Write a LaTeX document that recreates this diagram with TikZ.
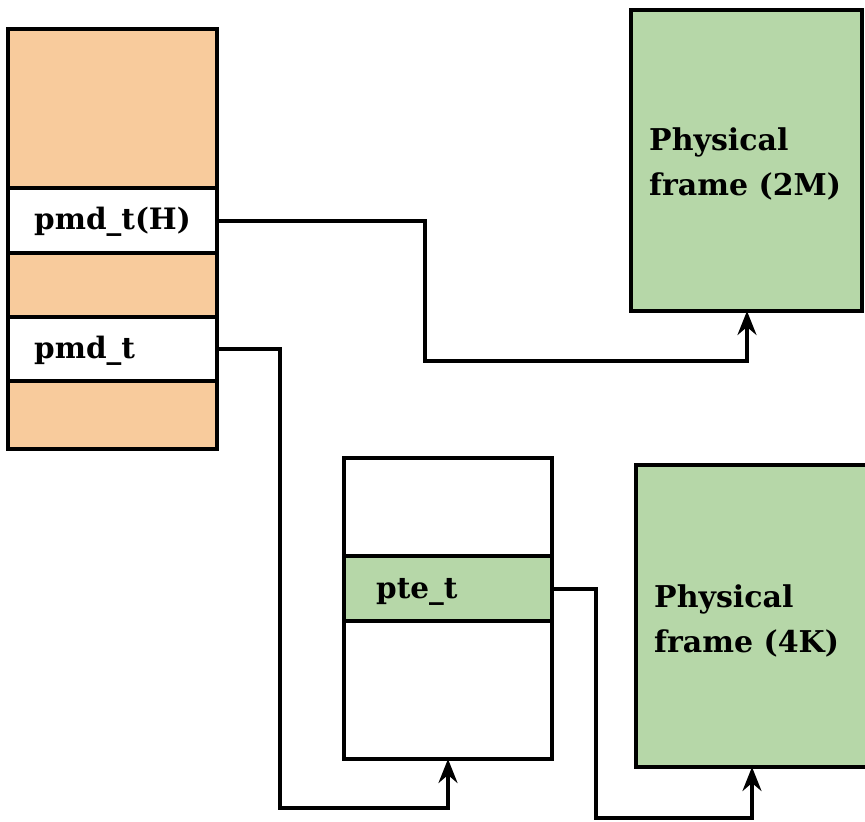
\documentclass[tikz,border=0pt]{standalone}
\usepackage{fontspec}
\setmainfont{DejaVu Serif}
\usetikzlibrary{arrows.meta}
\definecolor{stackorange}{HTML}{F8CB9C}
\definecolor{framegreen}{HTML}{B6D7A8}
\tikzset{
  box/.style={draw=black, line width=4pt},
  link/.style={draw=black, line width=3.6pt, -{Stealth[length=24pt, width=19pt, inset=8pt]}},
  lbl/.style={font=\bfseries\fontsize{29.5}{33}\selectfont, anchor=west, inner sep=0pt},
  plbl/.style={font=\bfseries\fontsize{30}{45}\selectfont, anchor=north west, align=left, inner sep=0pt},
}
\begin{document}
\begin{tikzpicture}[x=1pt, y=-1pt]
  \useasboundingbox (0,0) rectangle (865,822);

  % page-middle-directory stack
  \fill[stackorange] (8,29) rectangle (217,449);
  \fill[white] (8,188) rectangle (217,253);
  \fill[white] (8,317) rectangle (217,381);
  \draw[box] (8,29) rectangle (217,449);
  \draw[box] (8,188) -- (217,188) (8,253) -- (217,253);
  \draw[box] (8,317) -- (217,317) (8,381) -- (217,381);
  \node[lbl] (pmdh) at (34,222) {pmd\_t(H)};
  \node[lbl] (pmd) at (34,351) {pmd\_t};
  \coordinate (pmdhout) at (217,221);
  \coordinate (pmdout) at (217,349);

  % huge-page frame
  \draw[box, fill=framegreen] (631,10) rectangle (862,311);
  \node[plbl] (f2m) at (649,128) {Physical\\frame (2M)};
  \coordinate (f2min) at (747,311);

  % page table
  \draw[box, fill=white] (344,458) rectangle (552,759);
  \draw[box, fill=framegreen] (344,556) rectangle (552,621);
  \node[lbl] (pte) at (376,592) {pte\_t};
  \coordinate (pteout) at (552,589);
  \coordinate (ptin) at (448,759);

  % small-page frame
  \draw[box, fill=framegreen] (636,465) rectangle (868,767);
  \node[plbl] (f4k) at (654,584) {Physical\\frame (4K)};
  \coordinate (f4kin) at (752,767);

  % connectors
  \draw[link] (pmdhout) -- (425,221) -- (425,361) -- (747,361) -- (f2min);
  \draw[link] (pmdout) -- (280,349) -- (280,808) -- (448,808) -- (ptin);
  \draw[link] (pteout) -- (596,589) -- (596,818) -- (752,818) -- (f4kin);
\end{tikzpicture}
\end{document}
